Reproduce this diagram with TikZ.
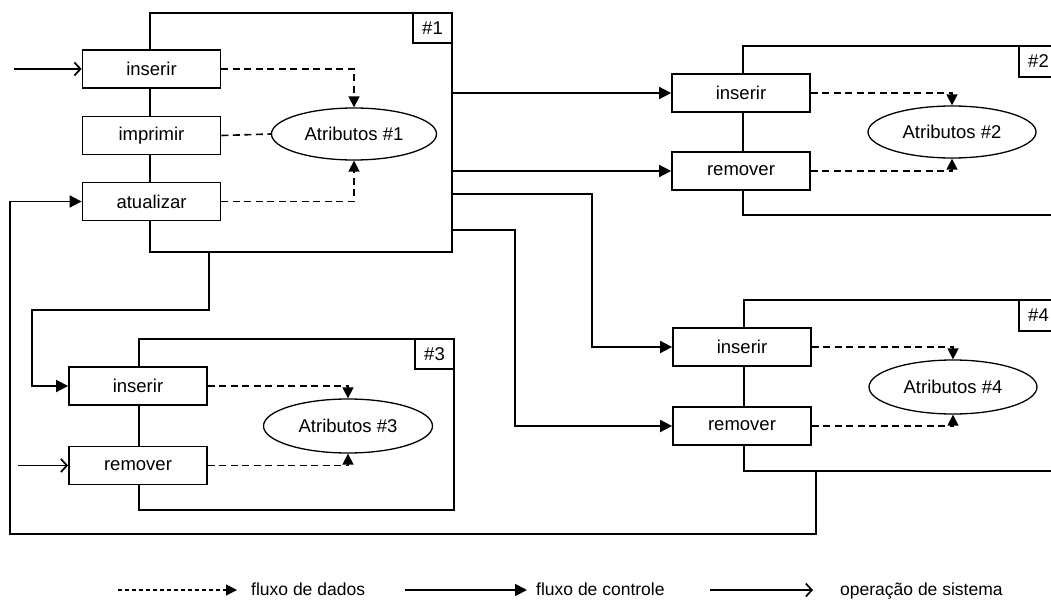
\documentclass[tikz,border=0pt]{standalone}
\usepackage{fontspec}
\setmainfont{Liberation Sans}
\usetikzlibrary{arrows.meta,shapes.geometric}

\begin{document}
\begin{tikzpicture}[x=1pt,y=-1pt,
  every node/.style={font=\fontsize{18.5}{20}\selectfont},
  frame/.style={draw, line width=1.8pt, inner sep=0pt, outer sep=0pt},
  tagbox/.style={draw, fill=white, line width=1.8pt, minimum width=39pt, minimum height=30pt,
                 inner sep=0pt, outer sep=0pt, anchor=north east},
  opbox/.style={draw, fill=white, line width=1.8pt, minimum width=138pt, minimum height=38pt, inner sep=0pt},
  attr/.style={ellipse, draw, line width=1.3pt, minimum width=166pt, minimum height=52pt, inner sep=0pt},
  ctrl/.style={line width=1.8pt, -{Triangle[length=12pt,width=12pt]}},
  sysop/.style={line width=1.7pt, -{Straight Barb[length=6pt,width=13pt]}},
  dataline/.style={line width=1.6pt, dash pattern=on 7pt off 4.5pt},
  data/.style={dataline, -{Triangle[length=11pt,width=11pt]}},
  legend/.style={font=\fontsize{17.5}{19}\selectfont, anchor=west, inner sep=0pt},
]
\useasboundingbox (0,0) rectangle (1051,607);
\clip (0,0) rectangle (1051,607);

% ---- module frames with their tags ----
\node[frame, minimum width=302pt, minimum height=239pt] (f1) at (301,132.5) {};
\node[frame, minimum width=315pt, minimum height=169pt] (f2) at (900.5,130.5) {};
\node[frame, minimum width=315pt, minimum height=171pt] (f3) at (296.5,424.5) {};
\node[frame, minimum width=314pt, minimum height=171pt] (f4) at (901,385.5) {};

\node[tagbox] (t1) at (f1.north east) {\#1};
\node[tagbox, minimum height=31pt] (t2) at (f2.north east) {\#2};
\node[tagbox] (t3) at (f3.north east) {\#3};
\node[tagbox, minimum height=31pt] (t4) at (f4.north east) {\#4};

% ---- operations ----
\node[opbox] (i1) at (151.5,69)    {inserir};
\node[opbox] (p1) at (151.5,135.5) {imprimir};
\node[opbox] (a1) at (151.5,201.5) {atualizar};

\node[opbox] (i2) at (741,93)  {inserir};
\node[opbox] (r2) at (741,171) {remover};

\node[opbox] (i3) at (138,386)   {inserir};
\node[opbox] (r3) at (138,465.5) {remover};

\node[opbox] (i4) at (742,347) {inserir};
\node[opbox] (r4) at (742,426) {remover};

% ---- attributes ----
\node[attr, minimum width=165pt] (e1) at (354,134) {Atributos \#1};
\node[attr, minimum width=168pt] (e2) at (952,132) {Atributos \#2};
\node[attr, minimum width=169pt, minimum height=54pt] (e3) at (348,426) {Atributos \#3};
\node[attr, minimum width=168pt, minimum height=54pt] (e4) at (953,387) {Atributos \#4};

% ---- data flows ----
\draw[data] (i1.east) -| (e1.north);
\draw[dataline] (p1.east) -- (e1.west);
\draw[data] (a1.east) -| (e1.south);

\draw[data] (i2.east) -| (e2.north);
\draw[data] (r2.east) -| (e2.south);

\draw[data] (i3.east) -| (e3.north);
\draw[data] (r3.east) -| (e3.south);

\draw[data] (i4.east) -| (e4.north);
\draw[data] (r4.east) -| (e4.south);

% ---- control flows ----
\coordinate (c1) at (592,194);
\coordinate (c2) at (515,230);
\coordinate (c3) at (209,310);
\coordinate (c4) at (32,310);
\coordinate (c5) at (816,534);
\coordinate (c6) at (10,534);

\draw[ctrl] (f1.east |- i2.west) -- (i2.west);
\draw[ctrl] (f1.east |- r2.west) -- (r2.west);
\draw[ctrl] (f1.east |- c1) -- (c1) |- (i4.west);
\draw[ctrl] (f1.east |- c2) -- (c2) |- (r4.west);
\draw[ctrl] (f1.south -| c3) -- (c3) -- (c4) |- (i3.west);
\draw[ctrl] (f4.south -| c5) -- (c5) -- (c6) |- (a1.west);

% ---- system operations ----
\coordinate (s1) at (14,69);
\coordinate (s3) at (18,465.5);
\draw[sysop] (s1) -- (i1.west);
\draw[sysop] (s3) -- (r3.west);

% ---- legend ----
\coordinate (la) at (118,590);
\coordinate (lb) at (237,590);
\coordinate (lc) at (405,590);
\coordinate (ld) at (527,590);
\coordinate (le) at (710,590);
\coordinate (lf) at (813,590);
\draw[data, dash pattern=on 4pt off 3pt, line width=1.2pt] (la) -- (lb);
\node[legend] (ta) at (251,589) {fluxo de dados};
\draw[ctrl] (lc) -- (ld);
\node[legend] (tb) at (536,589) {fluxo de controle};
\draw[sysop] (le) -- (lf);
\node[legend] (tc) at (840,591) {operação de sistema};
\end{tikzpicture}
\end{document}
